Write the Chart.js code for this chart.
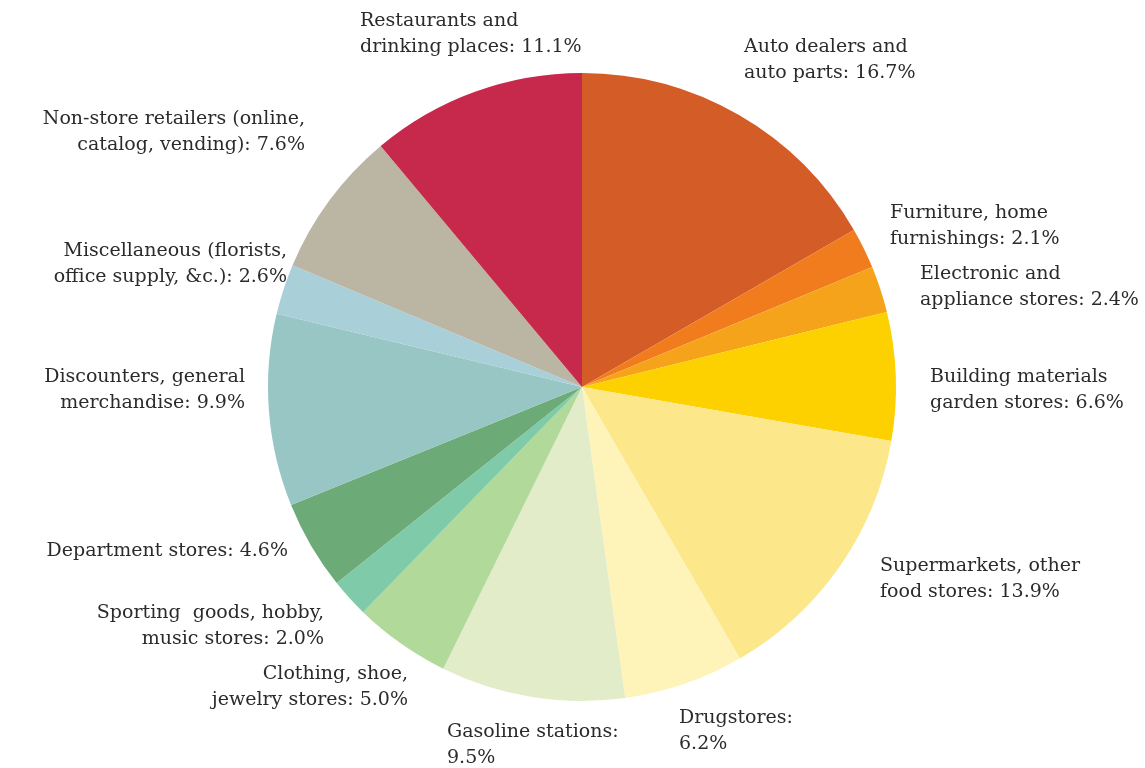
<!DOCTYPE html>
<html><head><meta charset="utf-8">
<script src="https://cdn.jsdelivr.net/npm/chart.js@4/dist/chart.umd.min.js"></script>
<style>html,body{margin:0;padding:0;background:#fff}#wrap{width:1145px;height:768px;position:relative}</style>
</head><body><div id="wrap"><canvas id="c" width="1145" height="768"></canvas></div>
<script>
const categories = [
  ["Auto dealers and", "auto parts"],
  ["Furniture, home", "furnishings"],
  ["Electronic and", "appliance stores"],
  ["Building materials", "garden stores"],
  ["Supermarkets, other", "food stores"],
  ["Drugstores:", ""],
  ["Gasoline stations:", ""],
  ["Clothing, shoe,", "jewelry stores"],
  ["Sporting  goods, hobby,", "music stores"],
  ["Department stores"],
  ["Discounters, general", "merchandise"],
  ["Miscellaneous (florists,", "office supply, &c.)"],
  ["Non-store retailers (online,", "catalog, vending)"],
  ["Restaurants and", "drinking places"]
];
const shares = [16.7, 2.1, 2.4, 6.6, 13.9, 6.2, 9.5, 5.0, 2.0, 4.6, 9.9, 2.6, 7.6, 11.1];
const sliceColors = ["#D45C27","#F07C1E","#F6A31C","#FDD000","#FCE78A","#FEF3B9","#E2ECC8","#B1D999","#7FCBA9","#6CAA78","#98C6C4","#A9CFD8","#BBB5A3","#C6294B"];

// label layout: [x, y of first line, align]
const labelLayout = [
  [744, 47, "left"], [890, 213, "left"], [920, 274, "left"], [930, 377, "left"],
  [880, 566, "left"], [679, 718, "left"], [447, 732, "left"], [408, 674, "right"],
  [324, 613, "right"], [288, 551, "right"], [245, 377, "right"], [287, 251, "right"],
  [305, 119, "right"], [360, 21, "left"]
];

function labelLines(i) {
  const c = categories[i];
  const pct = shares[i].toFixed(1) + "%";
  if (c.length === 1) return [c[0] + ": " + pct];
  if (c[1] === "") return [c[0], pct];
  return [c[0], c[1] + ": " + pct];
}

const labelPlugin = {
  id: "sliceLabels",
  afterDraw(chart) {
    const ctx = chart.ctx;
    ctx.save();
    ctx.font = "19px 'DejaVu Serif', serif";
    ctx.fillStyle = "#2b2b2b";
    ctx.textBaseline = "middle";
    shares.forEach((v, i) => {
      const [x, y, align] = labelLayout[i];
      ctx.textAlign = align;
      labelLines(i).forEach((t, k) => ctx.fillText(t, x, y + k * 26));
    });
    ctx.restore();
  }
};

new Chart(document.getElementById("c"), {
  type: "pie",
  data: {
    labels: categories.map(c => c.join(" ")),
    datasets: [{ data: shares, backgroundColor: sliceColors, borderWidth: 0 }]
  },
  options: {
    responsive: false,
    animation: false,
    layout: { padding: { left: 19, top: 73, bottom: 67, right: 0 } },
    plugins: { legend: { display: false }, tooltip: { enabled: false } }
  },
  plugins: [labelPlugin]
});
</script></body></html>
